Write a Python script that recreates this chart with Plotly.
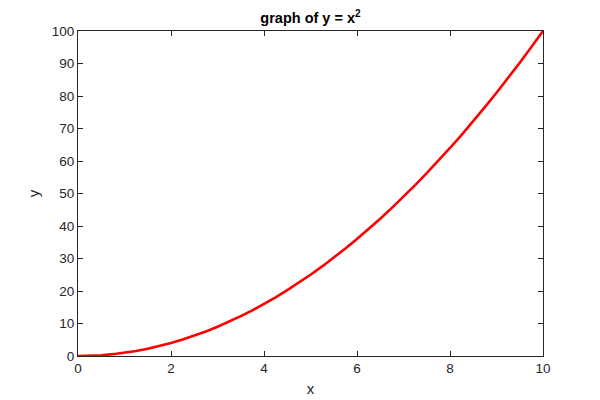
import plotly.graph_objects as go

x_vals = [0, 0.25, 0.5, 0.75, 1, 1.25, 1.5, 1.75, 2, 2.25, 2.5, 2.75, 3, 3.25, 3.5, 3.75,
          4, 4.25, 4.5, 4.75, 5, 5.25, 5.5, 5.75, 6, 6.25, 6.5, 6.75, 7, 7.25, 7.5, 7.75,
          8, 8.25, 8.5, 8.75, 9, 9.25, 9.5, 9.75, 10]
y_vals = [0, 0.0625, 0.25, 0.5625, 1, 1.5625, 2.25, 3.0625, 4, 5.0625, 6.25, 7.5625,
          9, 10.5625, 12.25, 14.0625, 16, 18.0625, 20.25, 22.5625, 25, 27.5625, 30.25,
          33.0625, 36, 39.0625, 42.25, 45.5625, 49, 52.5625, 56.25, 60.0625, 64, 68.0625,
          72.25, 76.5625, 81, 85.5625, 90.25, 95.0625, 100]
x_ticks = [0, 2, 4, 6, 8, 10]
y_ticks = [0, 10, 20, 30, 40, 50, 60, 70, 80, 90, 100]

FONT = "Liberation Sans, Arial, Helvetica"

fig = go.Figure()
fig.add_trace(go.Scatter(x=x_vals, y=y_vals, mode="lines",
                         line=dict(color="#ff0000", width=2.6), showlegend=False))

axis_common = dict(showgrid=False, zeroline=False, showline=True, linecolor="#262626",
                   linewidth=1, mirror="allticks", ticks="inside", ticklen=5,
                   tickcolor="#262626", automargin=False,
                   tickfont=dict(family=FONT, size=13.5, color="#262626"))

# The page adds an 8px body margin, so the figure is drawn 8px smaller
fig.update_layout(
    width=592, height=392,
    margin=dict(l=70, r=57, t=23, b=44),
    paper_bgcolor="white", plot_bgcolor="white",
    title=dict(text="<b>graph of y = x<sup>2</sup></b>", x=0.5, xanchor="center",
               xref="paper", y=1, yref="paper", yanchor="bottom", pad=dict(b=8),
               automargin=False,
               font=dict(family=FONT, size=14.5, color="black")),
    xaxis=dict(range=[0, 10], tickvals=x_ticks,
               title=dict(text="x", standoff=8, font=dict(family=FONT, size=15, color="#262626")),
               **axis_common),
    yaxis=dict(range=[0, 100], tickvals=y_ticks,
               title=dict(text="y", standoff=8, font=dict(family=FONT, size=15, color="#262626")),
               **axis_common),
)

fig.write_html("out.html")
